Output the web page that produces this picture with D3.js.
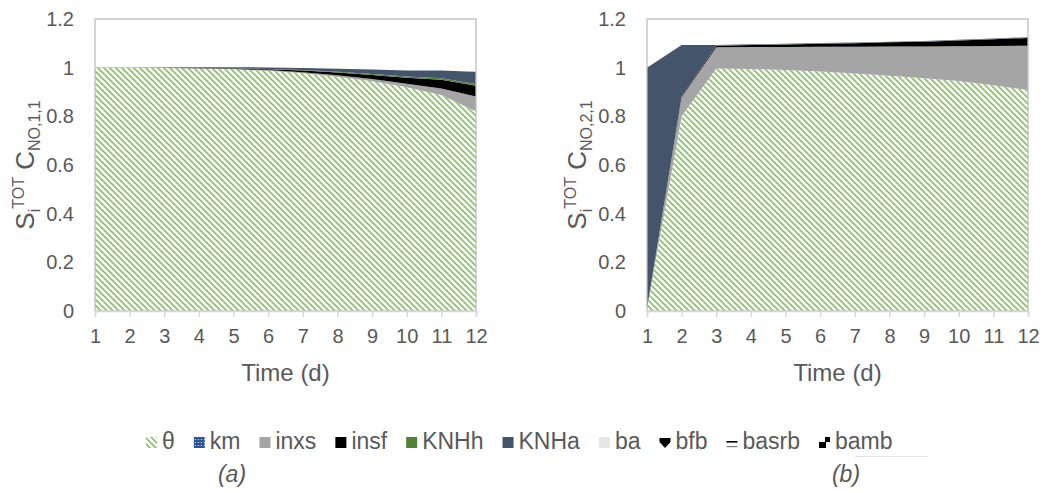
<!DOCTYPE html>
<html>
<head>
<meta charset="utf-8">
<title>Total sensitivity indices</title>
<script src="https://d3js.org/d3.v7.min.js"></script>
<style>
body { margin: 0; background: #fff; }
text { font-family: "Liberation Sans", Arial, sans-serif; fill: #595959; }
</style>
</head>
<body>
<svg id="chart" width="1049" height="493"></svg>
<script>
// time axis and tick labels
var days = [1, 2, 3, 4, 5, 6, 7, 8, 9, 10, 11, 12];
var yTicks = [0, 0.2, 0.4, 0.6, 0.8, 1, 1.2];
var seriesNames = ["θ", "km", "inxs", "insf", "KNHh", "KNHa", "ba", "bfb", "basrb", "bamb"];

// panel (a) : C_NO,1,1
var a_theta = [1.000, 1.000, 0.999, 0.997, 0.993, 0.987, 0.977, 0.963, 0.944, 0.920, 0.888, 0.820];
var a_km    = [0, 0, 0, 0, 0, 0, 0, 0, 0, 0, 0, 0];
var a_inxs  = [0, 0, 0, 0.001, 0.002, 0.003, 0.004, 0.006, 0.009, 0.014, 0.026, 0.062];
var a_insf  = [0, 0, 0, 0.001, 0.002, 0.004, 0.007, 0.011, 0.017, 0.025, 0.036, 0.044];
var a_KNHh  = [0, 0, 0, 0, 0.001, 0.001, 0.002, 0.003, 0.004, 0.005, 0.006, 0.007];
var a_KNHa  = [0.001, 0.001, 0.002, 0.003, 0.004, 0.006, 0.009, 0.013, 0.018, 0.024, 0.032, 0.050];
var a_ba    = [0, 0, 0, 0, 0, 0, 0, 0, 0, 0, 0, 0.001];
var a_bfb   = [0, 0, 0, 0, 0, 0, 0, 0, 0, 0, 0, 0];
var a_basrb = [0, 0, 0, 0, 0, 0, 0, 0, 0, 0, 0, 0];
var a_bamb  = [0, 0, 0, 0, 0, 0, 0, 0, 0, 0, 0, 0];

// panel (b) : C_NO,2,1
var b_theta = [0.010, 0.800, 0.997, 0.995, 0.990, 0.984, 0.976, 0.967, 0.957, 0.945, 0.928, 0.908];
var b_km    = [0, 0, 0, 0, 0, 0, 0, 0, 0, 0, 0, 0];
var b_inxs  = [0, 0.078, 0.087, 0.090, 0.095, 0.102, 0.110, 0.120, 0.130, 0.143, 0.161, 0.182];
var b_insf  = [0, 0.003, 0.006, 0.008, 0.010, 0.012, 0.014, 0.017, 0.020, 0.024, 0.028, 0.032];
var b_KNHh  = [0, 0, 0.001, 0.001, 0.001, 0.001, 0.001, 0.001, 0.001, 0.001, 0.001, 0.001];
var b_KNHa  = [0.990, 0.212, 0.002, 0.002, 0.002, 0.002, 0.002, 0.002, 0.002, 0.002, 0.002, 0.002];
var b_ba    = [0, 0, 0, 0, 0, 0, 0, 0, 0, 0, 0, 0];
var b_bfb   = [0, 0, 0, 0, 0, 0, 0, 0, 0, 0, 0, 0];
var b_basrb = [0, 0, 0, 0, 0, 0, 0, 0, 0, 0, 0, 0];
var b_bamb  = [0, 0, 0, 0, 0, 0, 0, 0, 0, 0, 0, 0.001];

var svg = d3.select("#chart");
var defs = svg.append("defs");

// hatch for theta
var hatch = defs.append("pattern").attr("id", "hatch")
    .attr("patternUnits", "userSpaceOnUse").attr("width", 6).attr("height", 6);
hatch.append("rect").attr("width", 6).attr("height", 6).attr("fill", "#fff");
hatch.append("path").attr("d", "M-1,5 l2,2 M0,0 l6,6 M5,-1 l2,2")
    .attr("stroke", "#8dc46a").attr("stroke-width", 1.8);

// checker for km
var chk = defs.append("pattern").attr("id", "chk")
    .attr("patternUnits", "userSpaceOnUse").attr("width", 3).attr("height", 3);
chk.append("rect").attr("width", 3).attr("height", 3).attr("fill", "#2f5597");
chk.append("rect").attr("width", 1).attr("height", 1).attr("x", 1).attr("y", 1).attr("fill", "#dbe5f5");

var fills = ["url(#hatch)", "url(#chk)", "#a5a5a5", "#000000", "#548235", "#44546a", "#e7e6e6", "#000000", "#000000", "#c9a27a"];

var plotTop = 19, plotBottom = 311, plotW = 381;
var y = d3.scaleLinear().domain([0, 1.2]).range([plotBottom, plotTop]);

function panel(left, cols, subLabel) {
    var x = d3.scaleLinear().domain([1, 12]).range([left, left + plotW]);
    var rows = days.map(function(d, i) {
        var r = {day: d};
        seriesNames.forEach(function(n, j) { r[n] = cols[j][i]; });
        return r;
    });
    var stacked = d3.stack().keys(seriesNames)(rows);
    var area = d3.area()
        .x(function(d) { return x(d.data.day); })
        .y0(function(d) { return y(d[0]); })
        .y1(function(d) { return y(d[1]); });

    var g = svg.append("g");
    g.selectAll("path.layer").data(stacked).join("path")
        .attr("class", "layer")
        .attr("d", area)
        .attr("fill", function(s, i) { return fills[i]; });

    // plot border
    g.append("rect")
        .attr("x", x(1)).attr("y", y(1.2))
        .attr("width", plotW).attr("height", plotBottom - plotTop)
        .attr("fill", "none").attr("stroke", "#bfbfbf").attr("stroke-width", 1.3);

    var xa = g.append("g").attr("transform", "translate(0," + plotBottom + ")")
        .call(d3.axisBottom(x).tickValues(days).tickSize(6).tickPadding(12).tickFormat(d3.format("d")));
    xa.select(".domain").attr("stroke", "#d9d9d9").attr("stroke-width", 1.5);
    xa.selectAll(".tick line").attr("stroke", "#d9d9d9").attr("stroke-width", 1.5);
    xa.selectAll("text").attr("font-size", 20).attr("fill", "#595959")
        .attr("font-family", "Liberation Sans, Arial, sans-serif");

    var ya = g.append("g").attr("transform", "translate(" + left + ",0)")
        .call(d3.axisLeft(y).tickValues(yTicks).tickSize(0).tickPadding(21)
            .tickFormat(function(d) { return String(+d.toFixed(1)); }));
    ya.select(".domain").remove();
    ya.selectAll("text").attr("font-size", 20).attr("fill", "#595959")
        .attr("font-family", "Liberation Sans, Arial, sans-serif");

    g.append("text")
        .attr("x", left + plotW / 2).attr("y", 381)
        .attr("text-anchor", "middle").attr("font-size", 24)
        .text("Time (d)");

    var yl = g.append("text")
        .attr("transform", "translate(" + (left - 61) + "," + ((plotTop + plotBottom) / 2) + ") rotate(-90)")
        .attr("text-anchor", "middle").attr("font-size", 26);
    yl.append("tspan").text("S");
    yl.append("tspan").attr("font-size", 16).attr("dy", 6).text("i");
    yl.append("tspan").attr("font-size", 16).attr("dy", -16).text("TOT");
    yl.append("tspan").attr("dy", 10).text(" C");
    yl.append("tspan").attr("font-size", 16).attr("dy", 6).text(subLabel);
}

panel(95, [a_theta, a_km, a_inxs, a_insf, a_KNHh, a_KNHa, a_ba, a_bfb, a_basrb, a_bamb], "NO,1,1");
panel(647, [b_theta, b_km, b_inxs, b_insf, b_KNHh, b_KNHa, b_ba, b_bfb, b_basrb, b_bamb], "NO,2,1");

// legend
var leg = svg.append("g");
var lx = 146;
seriesNames.forEach(function(n, i) {
    var it = leg.append("g").attr("transform", "translate(" + lx + ",0)");
    if (i < 7) {
        it.append("rect").attr("x", 0).attr("y", 437).attr("width", 11).attr("height", 11).attr("fill", fills[i]);
    } else if (n === "bfb") {
        it.append("path").attr("d", "M0,438 L11,438 L11,442 L5.5,448 L0,442 Z").attr("fill", "#000");
    } else if (n === "basrb") {
        it.append("rect").attr("x", 0).attr("y", 441).attr("width", 11).attr("height", 1.6).attr("fill", "#000");
        it.append("rect").attr("x", 0).attr("y", 446).attr("width", 11).attr("height", 1.2).attr("fill", "#777");
    } else {
        it.append("rect").attr("x", 0).attr("y", 442).attr("width", 7).attr("height", 6).attr("fill", "#000");
        it.append("rect").attr("x", 6).attr("y", 437).attr("width", 5).attr("height", 5).attr("fill", "#000");
    }
    var t = it.append("text").attr("x", 16).attr("y", 449).attr("font-size", 23).text(n);
    lx += 16 + t.node().getComputedTextLength() + 19;
});

svg.append("line").attr("x1", 855).attr("x2", 928).attr("y1", 456.5).attr("y2", 456.5)
    .attr("stroke", "#e3e3e3").attr("stroke-width", 1);

svg.append("text").attr("x", 232).attr("y", 482).attr("text-anchor", "middle")
    .attr("font-size", 23).attr("font-style", "italic").attr("fill", "#000").text("(a)");
svg.append("text").attr("x", 846).attr("y", 482).attr("text-anchor", "middle")
    .attr("font-size", 23).attr("font-style", "italic").attr("fill", "#000").text("(b)");
</script>
</body>
</html>
